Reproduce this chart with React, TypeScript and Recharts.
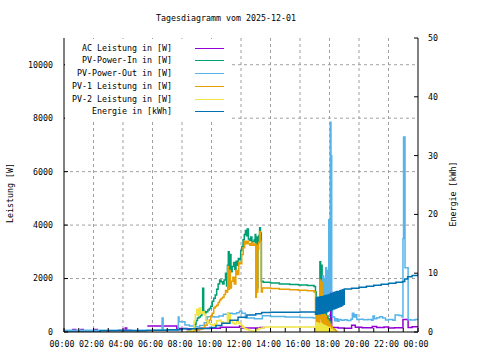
import { LineChart, Line, XAxis, YAxis, CartesianGrid } from 'recharts'

const FONT = '"DejaVu Sans Mono", monospace'

// time in hours
const hourTicks = [0, 1, 2, 3, 4, 5, 6, 7, 8, 9, 10, 11, 12, 13, 14, 15, 16, 17, 18, 19, 20, 21, 22, 23, 24]
const gridHours = [2, 4, 6, 8, 10, 12, 14, 16, 18, 20, 22]
const wattTicks = [0, 2000, 4000, 6000, 8000, 10000]
const wattGrid = [2000, 4000, 6000, 8000, 10000]
const kwhTicks = [0, 10, 20, 30, 40, 50]

// [hour, W]
const acPower: [number, number | null][] = [
  [0.55, 90], [0.85, 90], [0.9, null],
  [1.1, 90], [1.35, 90], [1.4, null],
  [2.0, 90], [2.3, 90], [2.35, null],
  [3.65, 70], [4.1, 70], [4.15, 150], [4.25, 70], [4.6, 70], [4.65, null],
  [5.65, 225], [7.65, 130], [8.35, 90], [9.2, 140], [10.6, 180], [11.9, 225], [12.1, 150],
  [13.3, 170], [13.6, 170], [13.65, null],
  [18.05, 0], [18.08, 1500], [18.15, 170], [18.6, 150], [19.0, 140], [19.5, 250], [19.75, 180],
  [20.2, 160], [20.9, 210], [21.2, 170], [21.7, 190], [22.0, 150], [22.4, 160], [22.98, 470],
  [23.33, 170], [23.6, 200], [24, 190],
]

const pvIn: [number, number][] = [
  [8.3, 0], [8.45, 30], [8.6, 60], [8.75, 110], [8.85, 270], [8.95, 430], [9.05, 520], [9.15, 560],
  [9.25, 620], [9.35, 700], [9.4, 1640], [9.47, 780], [9.55, 720], [9.65, 760], [9.75, 820], [9.85, 880],
  [9.95, 960], [10.05, 1150], [10.15, 1260], [10.25, 1380], [10.35, 1600], [10.45, 1800], [10.55, 1950],
  [10.65, 1880], [10.75, 1800], [10.85, 1950], [10.95, 2200], [11.02, 1720], [11.08, 2500], [11.14, 3000],
  [11.2, 2150], [11.26, 2900], [11.32, 2250], [11.4, 2450], [11.5, 2600], [11.58, 2350], [11.66, 2650],
  [11.74, 2500], [11.82, 2750], [11.9, 2700], [11.98, 3050], [12.06, 3200], [12.14, 3450], [12.22, 3650],
  [12.3, 3800], [12.36, 3600], [12.42, 3850], [12.5, 3480], [12.58, 3420], [12.66, 3550], [12.74, 3400],
  [12.82, 3380], [12.9, 3450], [12.96, 3650], [13.0, 1450], [13.04, 3550], [13.1, 1650], [13.14, 3350],
  [13.2, 3600], [13.26, 3900], [13.32, 3700], [13.38, 1900], [13.5, 1860], [14.0, 1830], [14.6, 1800],
  [15.3, 1780], [15.9, 1760], [16.5, 1740], [16.95, 1700], [17.05, 1500], [17.1, 1100], [17.15, 300],
  [17.2, 1050], [17.25, 250], [17.3, 1000], [17.35, 2630], [17.4, 700], [17.45, 2500], [17.5, 400],
  [17.55, 900], [17.6, 200], [17.65, 850], [17.7, 150], [17.75, 800], [17.8, 100], [17.85, 600],
  [17.9, 80], [17.95, 500], [18.0, 60], [18.05, 400], [18.1, 50], [18.15, 200], [18.2, 30], [18.25, 0],
]

const pvOut: [number, number][] = [
  [0, 70], [6.62, 70], [6.65, 520], [6.72, 70], [7.72, 70], [7.75, 560], [7.8, 380], [8.15, 380],
  [8.2, 260], [8.5, 220], [8.8, 200], [9.2, 240], [9.5, 350], [9.7, 570], [10.2, 560], [10.5, 600],
  [10.8, 660], [11.1, 700], [11.4, 680], [11.7, 720], [11.9, 780], [12.05, 700], [12.3, 520],
  [12.9, 500], [13.45, 610], [14.0, 580], [15.0, 560], [16.0, 540], [16.9, 520], [17.1, 560],
  [17.2, 600], [17.35, 650], [17.45, 1900], [17.5, 600], [17.55, 2100], [17.6, 700], [17.65, 2000],
  [17.7, 800], [17.75, 2400], [17.8, 900], [17.85, 2300], [17.9, 1200], [17.95, 4200], [18.0, 1500],
  [18.05, 7850], [18.1, 6600], [18.15, 900], [18.2, 560], [18.25, 560], [18.35, 420], [18.45, 500],
  [18.55, 400], [18.65, 470], [18.8, 440], [19.0, 460], [19.2, 430], [19.45, 480], [19.55, 700],
  [19.65, 560], [19.75, 650], [19.85, 470], [20.0, 480], [20.3, 460], [20.6, 470], [20.85, 440],
  [20.95, 600], [21.05, 500], [21.2, 530], [21.4, 570], [21.6, 520], [21.8, 450], [22.0, 470],
  [22.3, 440], [22.45, 640], [22.7, 620], [22.92, 560], [22.98, 3500], [23.02, 7300], [23.12, 2400],
  [23.33, 460], [23.5, 450], [23.8, 470], [24.0, 460],
]

const pv1: [number, number][] = [
  [8.3, 0], [8.6, 30], [8.8, 60], [9.0, 80], [9.2, 100], [9.4, 150], [9.55, 250], [9.7, 350],
  [9.85, 450], [9.95, 600], [10.05, 700], [10.15, 900], [10.25, 950], [10.35, 1000], [10.45, 1100],
  [10.55, 1200], [10.65, 1250], [10.75, 1300], [10.85, 1400], [10.95, 1550], [11.05, 1500], [11.1, 2450],
  [11.15, 1600], [11.22, 2300], [11.28, 1650], [11.35, 1900], [11.45, 2050], [11.55, 1800], [11.65, 2300],
  [11.75, 2150], [11.85, 2600], [11.95, 2550], [12.05, 2900], [12.15, 3150], [12.25, 3400], [12.32, 3300],
  [12.4, 3400], [12.5, 3300], [12.6, 3250], [12.7, 3350], [12.8, 3250], [12.9, 3280], [12.96, 3300],
  [13.0, 1300], [13.04, 3250], [13.1, 1500], [13.14, 3100], [13.2, 3350], [13.26, 3750], [13.32, 3400],
  [13.38, 1500], [13.45, 1650], [14.0, 1630], [14.6, 1600], [15.3, 1580], [15.9, 1560], [16.5, 1540],
  [16.95, 1500], [17.05, 760], [17.1, 150], [17.15, 780], [17.2, 120], [17.25, 750], [17.3, 200],
  [17.35, 1950], [17.4, 500], [17.45, 1850], [17.5, 300], [17.55, 700], [17.6, 100], [17.65, 650],
  [17.7, 80], [17.75, 600], [17.8, 50], [17.85, 450], [17.9, 40], [17.95, 380], [18.0, 30], [18.05, 300],
  [18.1, 150], [18.15, 200], [18.2, 120], [18.3, 80], [18.4, 40], [18.5, 0],
]

const pv2: [number, number][] = [
  [8.3, 0], [8.5, 30], [8.7, 80], [8.82, 400], [8.9, 650], [9.0, 850], [9.08, 620], [9.18, 900],
  [9.28, 700], [9.4, 760], [9.5, 650], [9.6, 420], [9.75, 330], [9.9, 280], [10.05, 250], [10.2, 300],
  [10.35, 420], [10.5, 440], [10.65, 380], [10.8, 350], [10.95, 330], [11.08, 700], [11.14, 380],
  [11.2, 650], [11.28, 420], [11.4, 340], [11.55, 300], [11.7, 380], [11.85, 330], [12.0, 250],
  [12.1, 180], [12.25, 120], [12.4, 90], [12.55, 60], [12.7, 40], [12.85, 20], [13.0, 80], [13.2, 130],
  [13.4, 150], [13.55, 190], [16.95, 190], [17.05, 30], [17.1, 350], [17.15, 20], [17.2, 330],
  [17.25, 40], [17.3, 300], [17.35, 30], [17.4, 320], [17.45, 50], [17.5, 280], [17.55, 20],
  [17.6, 250], [17.65, 30], [17.7, 230], [17.75, 10], [17.8, 200], [17.85, 20], [17.9, 180],
  [17.95, 10], [18.0, 150], [18.05, 20], [18.1, 100], [18.2, 40], [18.3, 0],
]

// [hour, kWh]
const energy: [number, number][] = [
  [0, 0.0], [2.4, 0.05], [2.45, 0.2], [5.6, 0.25], [6.0, 0.3], [7.0, 0.4], [8.0, 0.55], [9.0, 0.6],
  [9.9, 0.75], [10.3, 1.1], [10.7, 1.5], [11.25, 2.0], [11.8, 2.5], [12.4, 2.9], [13.0, 3.1],
  [13.4, 3.3], [14.0, 3.35], [16.0, 3.4], [17.0, 3.4],
  [17.05, 3.0], [17.1, 5.8], [17.15, 3.0], [17.2, 5.9], [17.25, 3.1], [17.3, 5.9], [17.35, 3.1],
  [17.4, 6.0], [17.45, 3.2], [17.5, 6.0], [17.55, 3.2], [17.6, 6.1], [17.65, 3.3], [17.7, 6.2],
  [17.75, 3.4], [17.8, 6.2], [17.85, 3.5], [17.9, 6.3], [17.95, 3.6], [18.0, 6.4], [18.05, 3.7],
  [18.1, 6.5], [18.15, 3.8], [18.2, 6.6], [18.25, 3.9], [18.3, 6.7], [18.35, 4.0], [18.4, 6.8],
  [18.45, 4.1], [18.5, 6.9], [18.55, 4.2], [18.6, 6.9], [18.65, 4.3], [18.7, 7.0], [18.75, 4.4],
  [18.8, 7.1], [18.85, 4.5], [18.9, 7.2], [18.95, 4.7], [19.0, 7.3],
  [19.5, 7.45], [20.0, 7.6], [20.5, 7.8], [21.0, 7.95], [21.5, 8.1], [22.0, 8.3], [22.5, 8.45],
  [22.95, 8.6], [23.1, 9.0], [23.3, 9.4], [23.6, 9.6], [24.0, 9.9],
]

const series = [
  { name: 'AC Leistung in [W]', color: '#9400d3', data: acPower, axis: 'w' },
  { name: 'PV-Power-In in [W]', color: '#009e73', data: pvIn, axis: 'w' },
  { name: 'PV-Power-Out in [W]', color: '#56b4e9', data: pvOut, axis: 'w' },
  { name: 'PV-1 Leistung in [W]', color: '#e69f00', data: pv1, axis: 'w' },
  { name: 'PV-2 Leistung in [W]', color: '#f0e442', data: pv2, axis: 'w' },
  { name: 'Energie in [kWh]', color: '#0072b2', data: energy, axis: 'e' },
]

const toPoints = (pairs: [number, number | null][]) => pairs.map(([t, v]) => ({ t, v }))

const fmtHour = (h: number) => {
  if (h % 2 !== 0) return ''
  const hh = h === 24 ? 0 : h
  return `${String(hh).padStart(2, '0')}:00`
}

const tickStyle = { fill: '#000', fontSize: 8.3, fontFamily: FONT }

export default function App() {
  return (
    <div style={{ position: 'absolute', left: 0, top: 0, width: 480, height: 360, background: '#fff', fontFamily: FONT, fontSize: 8.3, color: '#000' }}>
      <LineChart width={480} height={360} margin={{ top: 38, right: 0, bottom: 0, left: 0 }}>
        <CartesianGrid
          xAxisId="b"
          yAxisId="w"
          stroke="#a0a0a0"
          strokeDasharray="3 3"
          horizontalValues={wattGrid}
          verticalValues={gridHours}
        />
        <XAxis
          xAxisId="b"
          dataKey="t"
          type="number"
          domain={[0, 24]}
          ticks={hourTicks}
          interval={0}
          allowDataOverflow
          height={28}
          tickFormatter={fmtHour}
          tickSize={-4}
          tickMargin={13}
          axisLine={{ stroke: '#000' }}
          tickLine={{ stroke: '#000' }}
          tick={{ ...tickStyle, dx: -2 }}
        />
        <XAxis
          xAxisId="top"
          orientation="top"
          dataKey="t"
          type="number"
          domain={[0, 24]}
          ticks={hourTicks}
          interval={0}
          allowDataOverflow
          height={0}
          tickFormatter={() => ''}
          tickSize={-4}
          axisLine={{ stroke: '#000' }}
          tickLine={{ stroke: '#000' }}
        />
        <YAxis
          yAxisId="w"
          type="number"
          domain={[0, 11000]}
          ticks={wattTicks}
          interval={0}
          allowDataOverflow
          width={64}
          tickSize={-4}
          tickMargin={15}
          axisLine={{ stroke: '#000' }}
          tickLine={{ stroke: '#000' }}
          tick={tickStyle}
        />
        <YAxis
          yAxisId="e"
          orientation="right"
          type="number"
          domain={[0, 50]}
          ticks={kwhTicks}
          interval={0}
          allowDataOverflow
          width={62}
          tickSize={-4}
          tickMargin={14}
          axisLine={{ stroke: '#000' }}
          tickLine={{ stroke: '#000' }}
          tick={tickStyle}
        />
        {series.map(s => (
          <Line
            key={s.name}
            xAxisId="b"
            yAxisId={s.axis}
            data={toPoints(s.data)}
            dataKey="v"
            type="stepAfter"
            stroke={s.color}
            strokeWidth={1.5}
            dot={false}
            activeDot={false}
            isAnimationActive={false}
          />
        ))}
      </LineChart>

      {/* title */}
      <div style={{ position: 'absolute', left: 226, top: 12.5, transform: 'translateX(-50%)', whiteSpace: 'pre', lineHeight: '10px' }}>
        Tagesdiagramm vom 2025-12-01
      </div>

      {/* axis titles */}
      <div style={{ position: 'absolute', left: 10, top: 193, transform: 'translate(-50%, -50%) rotate(-90deg)', whiteSpace: 'pre', lineHeight: '10px' }}>
        Leistung [W]
      </div>
      <div style={{ position: 'absolute', left: 452.5, top: 194, transform: 'translate(-50%, -50%) rotate(-90deg)', whiteSpace: 'pre', lineHeight: '10px' }}>
        Energie [kWh]
      </div>

      {/* legend box */}
      <div style={{ position: 'absolute', left: 65, top: 39, width: 164, height: 81, background: '#fff' }} />
      {series.map((s, i) => {
        const cy = Math.round(47.7 + i * 12.7)
        return (
          <div key={s.name}>
            <div style={{ position: 'absolute', left: 0, width: 172, top: cy - 5, textAlign: 'right', whiteSpace: 'pre', lineHeight: '10px' }}>
              {s.name}
            </div>
            <div style={{ position: 'absolute', left: 195, width: 29, top: cy, height: 1, background: s.color }} />
          </div>
        )
      })}
    </div>
  )
}
